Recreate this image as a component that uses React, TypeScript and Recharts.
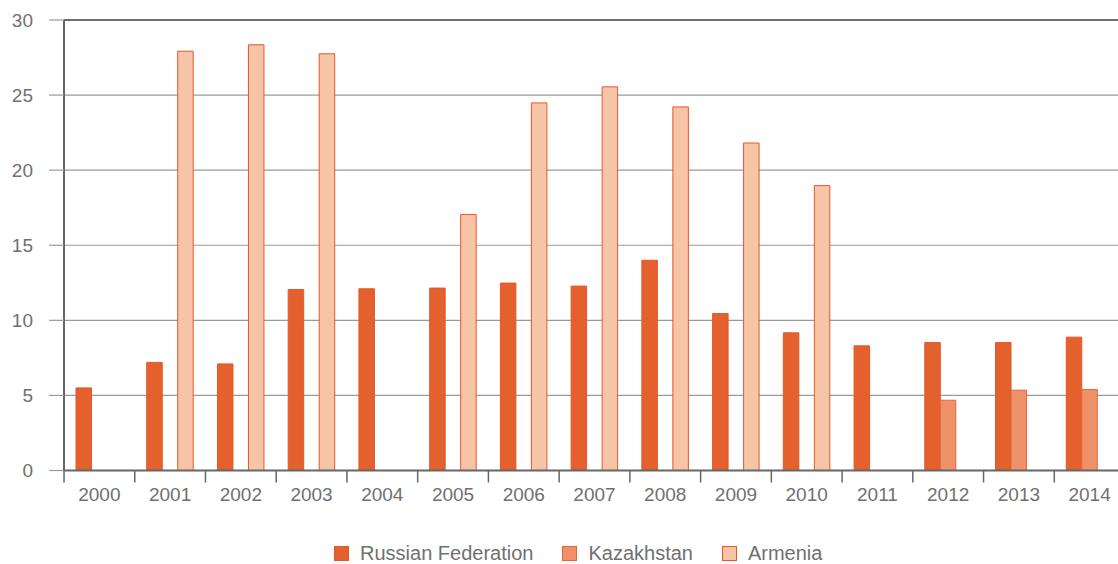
import React from 'react';
import { BarChart, Bar, XAxis, YAxis, CartesianGrid, Legend, ReferenceLine } from 'recharts';

const years = ['2000','2001','2002','2003','2004','2005','2006','2007','2008','2009','2010','2011','2012','2013','2014'];
const russia = [5.5, 7.2, 7.1, 12.05, 12.1, 12.15, 12.48, 12.28, 14.0, 10.45, 9.17, 8.3, 8.52, 8.52, 8.88];
const kazakhstan: (number | null)[] = [null, null, null, null, null, null, null, null, null, null, null, null, 4.68, 5.35, 5.39];
const armenia: (number | null)[] = [null, 27.92, 28.35, 27.75, null, 17.05, 24.48, 25.55, 24.21, 21.81, 18.97, null, null, null, null];
const yTicks = [0, 5, 10, 15, 20, 25, 30];

const seriesNames = ['Russian Federation', 'Kazakhstan', 'Armenia'];
const seriesFill = ['#E4602C', '#EE9068', '#F6C4A6'];
const seriesStroke = ['#E2582A', '#E8643A', '#E8562A'];

const data = years.map((y, i) => ({
  year: y,
  russia: russia[i],
  kazakhstan: kazakhstan[i],
  armenia: armenia[i],
}));

const FONT = '"Liberation Sans", Arial, sans-serif';
const TEXT = '#707070';
const BAND = 1060.5 / years.length;

const XTick = (props: any) => {
  const { x, y, payload } = props;
  const left = x - BAND / 2;
  return (
    <g>
      <line x1={left} y1={y - 8} x2={left} y2={y + 4} stroke="#666" strokeWidth={1.5} />
      <text x={x} y={y + 22.5} textAnchor="middle" fill={TEXT} fontSize={19} fontFamily={FONT}>
        {payload.value}
      </text>
    </g>
  );
};

const LegendContent = () => (
  <div style={{ display: 'flex', alignItems: 'center', height: 30, paddingLeft: 334, fontFamily: FONT, fontSize: 20, color: TEXT }}>
    {seriesNames.map((n, i) => (
      <div key={n} style={{ display: 'flex', alignItems: 'center', marginRight: 29 }}>
        <div style={{ width: 13, height: 13, background: seriesFill[i], border: `1px solid ${seriesStroke[i]}`, marginRight: 11 }} />
        <span>{n}</span>
      </div>
    ))}
  </div>
);

export default function App() {
  return (
    <div style={{ position: 'absolute', left: 0, top: 0, width: 1118, height: 564, overflow: 'hidden', background: '#fff' }}>
      <BarChart
        width={1125}
        height={564}
        data={data}
        margin={{ top: 20, right: 0, left: 0, bottom: 23.5 }}
        barGap={0}
        barSize={15.5}
      >
        <CartesianGrid vertical={false} stroke="#9a9a9a" strokeWidth={1.2} />
        <ReferenceLine y={30} stroke="#6e6e6e" strokeWidth={2} />
        <XAxis
          dataKey="year"
          height={40}
          tickLine={false}
          axisLine={{ stroke: '#666', strokeWidth: 2 }}
          tick={<XTick />}
          interval={0}
        />
        <YAxis
          width={64}
          domain={[0, 30]}
          ticks={yTicks}
          interval={0}
          tickSize={15}
          tickMargin={16}
          tickLine={{ stroke: '#9a9a9a', strokeWidth: 1.2 }}
          axisLine={{ stroke: '#666', strokeWidth: 2 }}
          tick={{ fill: TEXT, fontSize: 19, fontFamily: FONT }}
        />
        <Legend
          verticalAlign="bottom"
          content={<LegendContent />}
          wrapperStyle={{ top: 538, bottom: 'auto', left: 0, width: 1118, height: 30 }}
        />
        <Bar dataKey="russia" name={seriesNames[0]} fill={seriesFill[0]} stroke={seriesStroke[0]} strokeWidth={1} isAnimationActive={false} />
        <Bar dataKey="kazakhstan" name={seriesNames[1]} fill={seriesFill[1]} stroke={seriesStroke[1]} strokeWidth={1} isAnimationActive={false} />
        <Bar dataKey="armenia" name={seriesNames[2]} fill={seriesFill[2]} stroke={seriesStroke[2]} strokeWidth={1} isAnimationActive={false} />
      </BarChart>
    </div>
  );
}
